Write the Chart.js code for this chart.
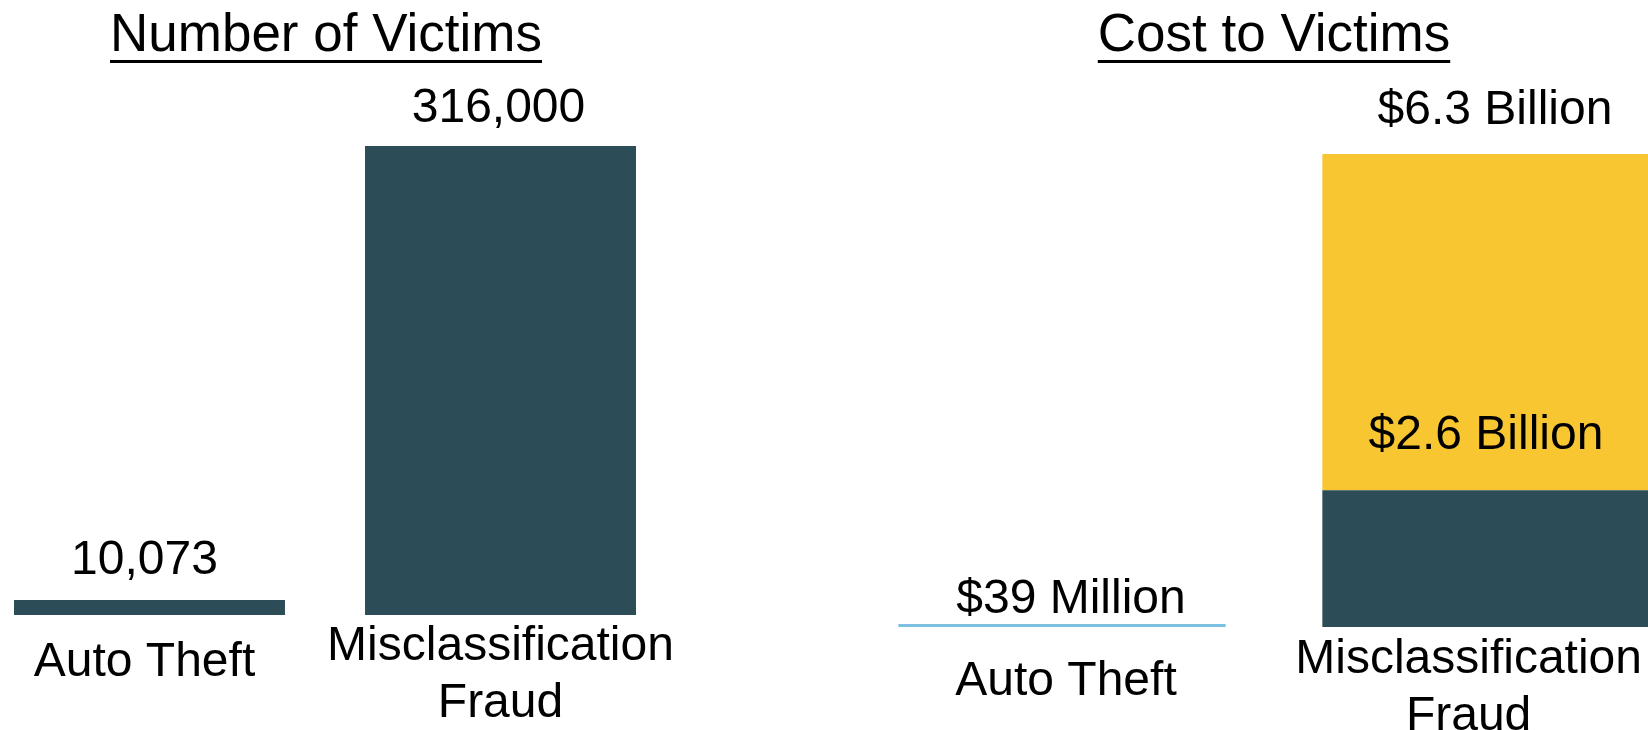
<!DOCTYPE html>
<html>
<head>
<meta charset="utf-8">
<script src="https://cdn.jsdelivr.net/npm/chart.js@4/dist/chart.umd.min.js"></script>
<style>
  body { margin: 0; background: #fff; overflow: hidden; }
  #page { position: relative; width: 1648px; height: 730px; overflow: hidden; }
  .title {
    position: absolute; top: 6px; font: 53px/1 'Liberation Sans', Arial, sans-serif; color: #000;
    text-decoration: underline; text-decoration-thickness: 3px; text-underline-offset: 9px;
    transform: translateX(-50%); white-space: nowrap;
  }
  canvas { position: absolute; top: 0; }
</style>
</head>
<body>
<div id="page">
  <div class="title" style="left:326px">Number of Victims</div>
  <div class="title" style="left:1274px">Cost to Victims</div>
  <canvas id="chartVictims" width="702" height="730" style="left:-26px"></canvas>
  <canvas id="chartCost" width="848" height="730" style="left:850px"></canvas>
</div>
<script>
// data
const categories = [['Auto Theft'], ['Misclassification', 'Fraud']];
const victims = [10073, 316000];
const victimLabels = ['10,073', '316,000'];
// cost in $ billions
const costBase = [0.039, 1.82];
const costTop = [0, 4.48];
const costBaseLabels = ['$39 Million', '$2.6 Billion'];
const costTopLabels = ['', '$6.3 Billion'];

const DARK = '#2C4C57';
const YELLOW = '#F8C631';
const LIGHTBLUE = '#7CC1E2';
const FONT = "48px 'Liberation Sans', Arial, sans-serif";

// draws value labels above bars and category names under the axis
const textPlugin = {
  id: 'textPlugin',
  afterDatasetsDraw(chart, args, opts) {
    const ctx = chart.ctx;
    const zeroY = chart.scales.y.getPixelForValue(0);
    ctx.save();
    ctx.font = FONT;
    ctx.fillStyle = '#000';
    ctx.textAlign = 'center';
    ctx.textBaseline = 'alphabetic';

    chart.data.datasets.forEach((ds, i) => {
      const meta = chart.getDatasetMeta(i);
      meta.data.forEach((bar, j) => {
        const txt = ds.valueLabels[j];
        if (!txt) return;
        ctx.fillText(txt, bar.x + ds.labelShift[j], bar.y - ds.labelGap[j]);
      });
    });

    chart.data.labels.forEach((lines, j) => {
      let x = chart.scales.x.getPixelForValue(j) + (opts.shift ? opts.shift[j] : 0);
      const w = Math.max(...lines.map(l => ctx.measureText(l).width));
      if (opts.maxRight && x + w / 2 > opts.maxRight) x = opts.maxRight - w / 2;
      const gap = lines.length > 1 ? opts.multiGap : opts.singleGap;
      lines.forEach((l, k) => ctx.fillText(l, x, zeroY + gap + k * 57));
    });
    ctx.restore();
  }
};

const baseOptions = (max, padBottom, textOpts) => ({
  responsive: false,
  animation: false,
  layout: { padding: { top: 0, left: 0, right: 0, bottom: padBottom } },
  plugins: { legend: { display: false }, tooltip: { enabled: false }, textPlugin: textOpts },
  scales: {
    x: { display: false, stacked: true },
    y: { display: false, stacked: true, min: 0, max: max }
  }
});

new Chart(document.getElementById('chartVictims'), {
  type: 'bar',
  data: {
    labels: categories,
    datasets: [{
      data: victims,
      valueLabels: victimLabels,
      labelGap: [26, 24],
      labelShift: [-5, -2],
      backgroundColor: DARK,
      borderWidth: 0,
      categoryPercentage: 1,
      barPercentage: 0.772
    }]
  },
  options: baseOptions(414400, 115, { singleGap: 61, multiGap: 45, shift: [-5, 0] }),
  plugins: [textPlugin]
});

new Chart(document.getElementById('chartCost'), {
  type: 'bar',
  data: {
    labels: categories,
    datasets: [{
      data: costBase,
      valueLabels: costBaseLabels,
      labelGap: [11, 41],
      labelShift: [9, 0],
      backgroundColor: [LIGHTBLUE, DARK],
      borderWidth: 0,
      categoryPercentage: 1,
      barPercentage: 0.772
    }, {
      data: costTop,
      valueLabels: costTopLabels,
      labelGap: [0, 30],
      labelShift: [0, 9],
      backgroundColor: YELLOW,
      borderWidth: 0,
      categoryPercentage: 1,
      barPercentage: 0.772
    }]
  },
  options: baseOptions(8.351, 103, { singleGap: 68, multiGap: 46, maxRight: 792, shift: [4, 0] }),
  plugins: [textPlugin]
});
</script>
</body>
</html>
